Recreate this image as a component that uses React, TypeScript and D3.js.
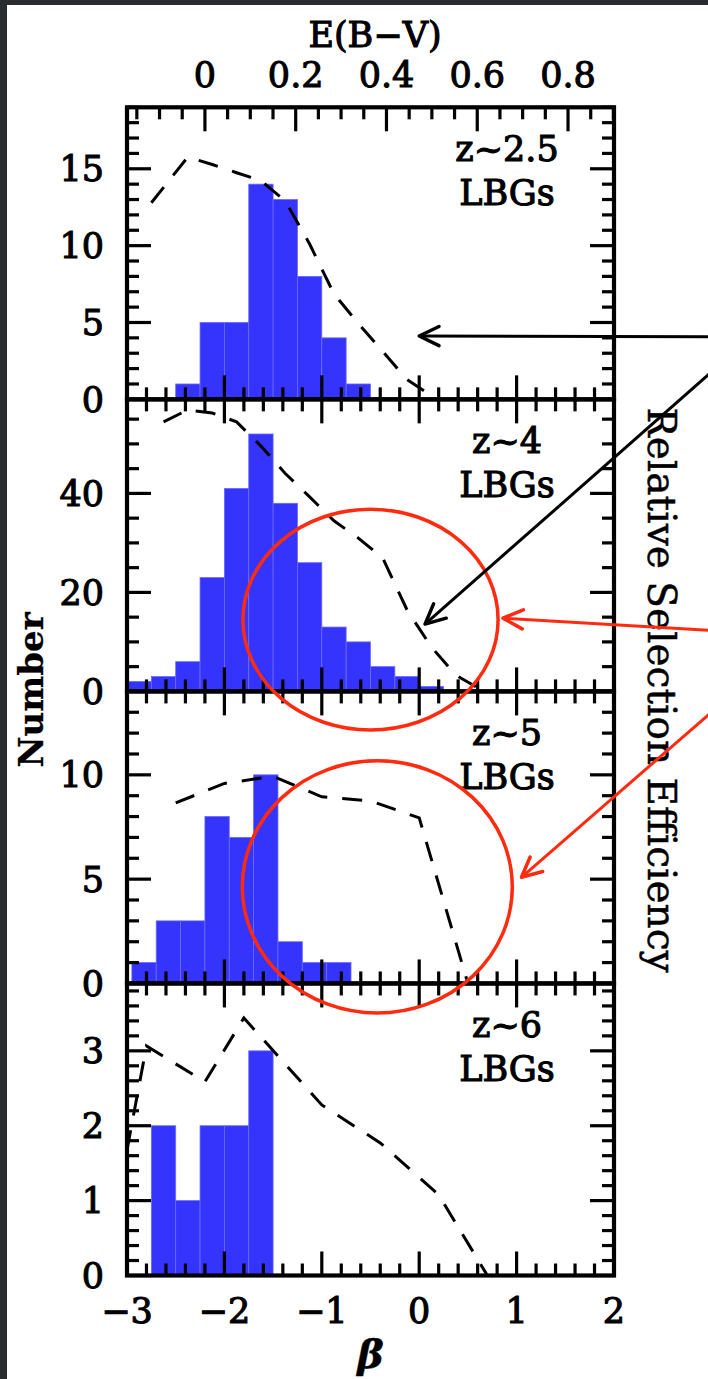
import React, { useEffect, useRef } from 'react';
import * as d3 from 'd3';

// beta axis (bottom) and E(B-V) axis (top of first panel)
const betaDomain = [-3, 2];
const betaTicks = [-3, -2, -1, 0, 1, 2];
const ebvTicks = [0, 0.2, 0.4, 0.6, 0.8];
const betaAtZeroEbv = -2.2;
const betaPerEbv = 4.66;

// panels, top to bottom
const panelNames = ['z~2.5', 'z~4', 'z~5', 'z~6'];
const panelMax = [19, 59, 14, 3.9];
const panelMajorStep = [5, 20, 5, 1];
const panelMinorStep = [1, 5, 1, 0.2];

// histograms: bin edges and counts
const edges25 = [-2.5, -2.25, -2, -1.75, -1.5, -1.25, -1, -0.75, -0.5];
const counts25 = [1, 5, 5, 14, 13, 8, 4, 1];
const edges4 = [-3, -2.75, -2.5, -2.25, -2, -1.75, -1.5, -1.25, -1, -0.75, -0.5, -0.25, 0, 0.25];
const counts4 = [2, 3, 6, 23, 41, 52, 38, 26, 13, 10, 5, 3, 1];
const edges5 = [-2.95, -2.7, -2.45, -2.2, -1.95, -1.7, -1.45, -1.2, -0.95, -0.7];
const counts5 = [1, 3, 3, 8, 7, 10, 2, 1, 1];
const edges6 = [-2.75, -2.5, -2.25, -2, -1.75, -1.5];
const counts6 = [2, 1, 2, 2, 3];

// relative selection efficiency (fraction of panel height)
const effBeta25 = [-2.75, -2.375, -2.125, -1.875, -1.625, -1.375, -1.125, -0.875, -0.625, -0.375, -0.125, 0.125];
const effVal25 = [0.673, 0.83, 0.804, 0.776, 0.749, 0.679, 0.532, 0.361, 0.26, 0.164, 0.068, 0.012];
const effBeta4 = [-2.625, -2.375, -2.125, -1.875, -1.625, -1.375, -1.125, -0.875, -0.625, -0.375, -0.125, 0.125, 0.375, 0.625];
const effVal4 = [0.923, 0.964, 0.953, 0.923, 0.84, 0.746, 0.666, 0.584, 0.525, 0.457, 0.279, 0.152, 0.056, 0.008];
const effBeta5 = [-2.5, -2, -1.5, -1, -0.5, 0, 0.5];
const effVal5 = [0.618, 0.685, 0.709, 0.639, 0.625, 0.567, 0];
const effBeta6 = [-3, -2.8, -2.2, -1.8, -1, -0.4, 0.2, 0.7];
const effVal6 = [0.43, 0.786, 0.663, 0.882, 0.584, 0.454, 0.276, 0];

// annotations in data units of a panel
const ellipses = [
  { panel: 1, beta: -0.5, n: 14.5, rBeta: 1.31, rN: 22.3 },
  { panel: 2, beta: -0.43, n: 4.63, rBeta: 1.386, rN: 6.05 },
];
const arrows = [
  { panel: 0, from: [3.0, 4.08], to: [0.0, 4.12], color: '#000' },
  { panel: 1, from: [3.0, 64.5], to: [0.06, 13.6], color: '#000' },
  { panel: 1, from: [3.0, 12.3], to: [0.86, 14.8], color: '#ff2b0f' },
  { panel: 2, from: [3.0, 13.0], to: [1.05, 5.09], color: '#ff2b0f' },
];

const W = 708;
const H = 1379;
const FONT = "'DejaVu Serif', serif";

const App = () => {
  const ref = useRef(null);

  useEffect(() => {
    const svg = d3.select(ref.current);
    svg.selectAll('*').remove();

    const left = 127, right = 614, top = 107.3, panelH = 292.05;
    const x = d3.scaleLinear().domain(betaDomain).range([left, right]);
    const ebv = d3.scaleLinear()
      .domain(betaDomain.map(b => (b - betaAtZeroEbv) / betaPerEbv))
      .range([left, right]);

    const hists = [[edges25, counts25], [edges4, counts4], [edges5, counts5], [edges6, counts6]];
    const effs = [[effBeta25, effVal25], [effBeta4, effVal4], [effBeta5, effVal5], [effBeta6, effVal6]];

    svg.append('rect').attr('width', W).attr('height', H).attr('fill', '#2a2d2f');
    svg.append('rect').attr('x', 7).attr('y', 5).attr('width', W - 7).attr('height', H - 5).attr('fill', '#fff');

    const ys = panelMax.map((m, p) => d3.scaleLinear().domain([0, m]).range([top + (p + 1) * panelH, top + p * panelH]));
    const effY = panelMax.map((m, p) => d3.scaleLinear().domain([0, 1]).range([top + (p + 1) * panelH, top + p * panelH]));

    const defs = svg.append('defs');

    panelMax.forEach((m, p) => {
      const y = ys[p];
      const y0 = y(0), y1 = y(m);
      const g = svg.append('g');

      defs.append('clipPath').attr('id', `clip${p}`)
        .append('rect').attr('x', left).attr('y', y1).attr('width', right - left).attr('height', y0 - y1);

      // bars
      const [edges, counts] = hists[p];
      g.selectAll('rect.bar').data(counts).enter().append('rect')
        .attr('x', (d, i) => x(edges[i]))
        .attr('width', (d, i) => x(edges[i + 1]) - x(edges[i]))
        .attr('y', d => y(d))
        .attr('height', d => y0 - y(d))
        .attr('fill', '#3434fd')
        .attr('stroke', '#6a6aff')
        .attr('stroke-width', 0.8);

      // dashed selection efficiency
      const [eb, ev] = effs[p];
      const line = d3.line().x(d => x(d[0])).y(d => effY[p](d[1]));
      g.append('path')
        .datum(eb.map((b, i) => [b, ev[i]]))
        .attr('clip-path', `url(#clip${p})`)
        .attr('fill', 'none')
        .attr('stroke', '#000')
        .attr('stroke-width', 3)
        .attr('stroke-dasharray', '20,15')
        .attr('d', line);

      // ticks
      const ticks = g.append('g').attr('stroke', '#000').attr('stroke-width', 3.2);
      d3.range(0, 26).map(i => ({ v: -3 + i * 0.2, major: i % 5 === 0 })).forEach(t => {
        const len = t.major ? 24 : 12;
        ticks.append('line').attr('x1', x(t.v)).attr('x2', x(t.v)).attr('y1', y0).attr('y2', y0 - len);
        if (p > 0) ticks.append('line').attr('x1', x(t.v)).attr('x2', x(t.v)).attr('y1', y1).attr('y2', y1 + len);
      });
      if (p === 0) {
        const [e0, e1] = ebv.domain();
        d3.range(Math.ceil(e0 / 0.05), Math.floor(e1 / 0.05) + 1).forEach(k => {
          const len = k % 4 === 0 ? 24 : 12;
          const xe = ebv(k * 0.05);
          ticks.append('line').attr('x1', xe).attr('x2', xe).attr('y1', y1).attr('y2', y1 + len);
        });
      }
      const nMinor = Math.round(m / panelMinorStep[p] - 0.5);
      d3.range(0, nMinor + 1).forEach(k => {
        const v = k * panelMinorStep[p];
        const major = Math.abs(v / panelMajorStep[p] - Math.round(v / panelMajorStep[p])) < 1e-6;
        const len = major ? 24 : 12;
        ticks.append('line').attr('x1', left).attr('x2', left + len).attr('y1', y(v)).attr('y2', y(v));
        ticks.append('line').attr('x1', right).attr('x2', right - len).attr('y1', y(v)).attr('y2', y(v));
      });

      // frame
      g.append('rect').attr('x', left).attr('y', y1).attr('width', right - left).attr('height', y0 - y1)
        .attr('fill', 'none').attr('stroke', '#000').attr('stroke-width', 4.2);

      // y tick labels
      g.selectAll('text.yl').data(d3.range(0, Math.floor(m / panelMajorStep[p] + 1e-6) + 1).map(k => k * panelMajorStep[p]))
        .enter().append('text')
        .attr('x', 104).attr('y', d => y(d)).attr('dy', '0.36em')
        .attr('text-anchor', 'end')
        .attr('font-family', FONT).attr('font-size', 35)
        .attr('stroke', '#000').attr('stroke-width', 1.1)
        .text(d => d);

      // panel labels
      g.append('text').attr('x', 507).attr('y', y1 + 54).attr('text-anchor', 'middle')
        .attr('font-family', FONT).attr('font-size', 35).attr('stroke', '#000').attr('stroke-width', 1.1)
        .text(panelNames[p]);
      g.append('text').attr('x', 507).attr('y', y1 + 98).attr('text-anchor', 'middle')
        .attr('font-family', FONT).attr('font-size', 35).attr('stroke', '#000').attr('stroke-width', 1.1)
        .text('LBGs');
    });

    const labels = svg.append('g').attr('font-family', FONT).attr('font-size', 35)
      .attr('stroke', '#000').attr('stroke-width', 1.1);

    // bottom beta labels
    labels.selectAll('text.bx').data(betaTicks).enter().append('text')
      .attr('x', d => x(d)).attr('y', 1323).attr('text-anchor', 'middle')
      .text(d => (d < 0 ? '\u2212' + Math.abs(d) : d));
    labels.append('text').attr('x', x(-0.5)).attr('y', 1368).attr('text-anchor', 'middle')
      .attr('font-style', 'italic').attr('font-weight', 'bold').attr('font-size', 40).attr('stroke-width', 0.4)
      .text('\u03b2');

    // top E(B-V) labels
    labels.selectAll('text.tx').data(ebvTicks).enter().append('text')
      .attr('x', d => ebv(d)).attr('y', 87).attr('text-anchor', 'middle')
      .text(d => d);
    labels.append('text').attr('x', 375).attr('y', 47).attr('text-anchor', 'middle')
      .text('E(B\u2212V)');

    labels.append('text').attr('transform', 'translate(43,690) rotate(-90)').attr('text-anchor', 'middle')
      .attr('font-weight', 'bold').attr('font-size', 34).attr('stroke-width', 0.3)
      .text('Number');
    labels.append('text').attr('transform', 'translate(648,690) rotate(90)').attr('text-anchor', 'middle')
      .attr('font-size', 39).attr('stroke-width', 0.5)
      .text('Relative Selection Efficiency');

    // annotations
    const ann = svg.append('g').attr('fill', 'none');
    ellipses.forEach(e => {
      const y = ys[e.panel];
      ann.append('ellipse')
        .attr('cx', x(e.beta)).attr('cy', y(e.n))
        .attr('rx', x(e.beta + e.rBeta) - x(e.beta))
        .attr('ry', y(0) - y(e.rN))
        .attr('stroke', '#ff2b0f').attr('stroke-width', 3.5);
    });
    arrows.forEach(a => {
      const y = ys[a.panel];
      const x0 = x(a.from[0]), y0 = y(a.from[1]), x1 = x(a.to[0]), y1 = y(a.to[1]);
      const ang = Math.atan2(y0 - y1, x0 - x1);
      const head = 22, spread = 0.45;
      const w = 3;
      ann.append('line').attr('x1', x0).attr('y1', y0).attr('x2', x1).attr('y2', y1)
        .attr('stroke', a.color).attr('stroke-width', w);
      ann.append('path')
        .attr('d', `M${x1 + head * Math.cos(ang + spread)},${y1 + head * Math.sin(ang + spread)}L${x1},${y1}L${x1 + head * Math.cos(ang - spread)},${y1 + head * Math.sin(ang - spread)}`)
        .attr('stroke', a.color).attr('stroke-width', w + 0.5).attr('stroke-linecap', 'round').attr('stroke-linejoin', 'round');
    });
  }, []);

  return <svg ref={ref} width={W} height={H} style={{ position: 'absolute', left: 0, top: 0, display: 'block' }} />;
};

export default App;
